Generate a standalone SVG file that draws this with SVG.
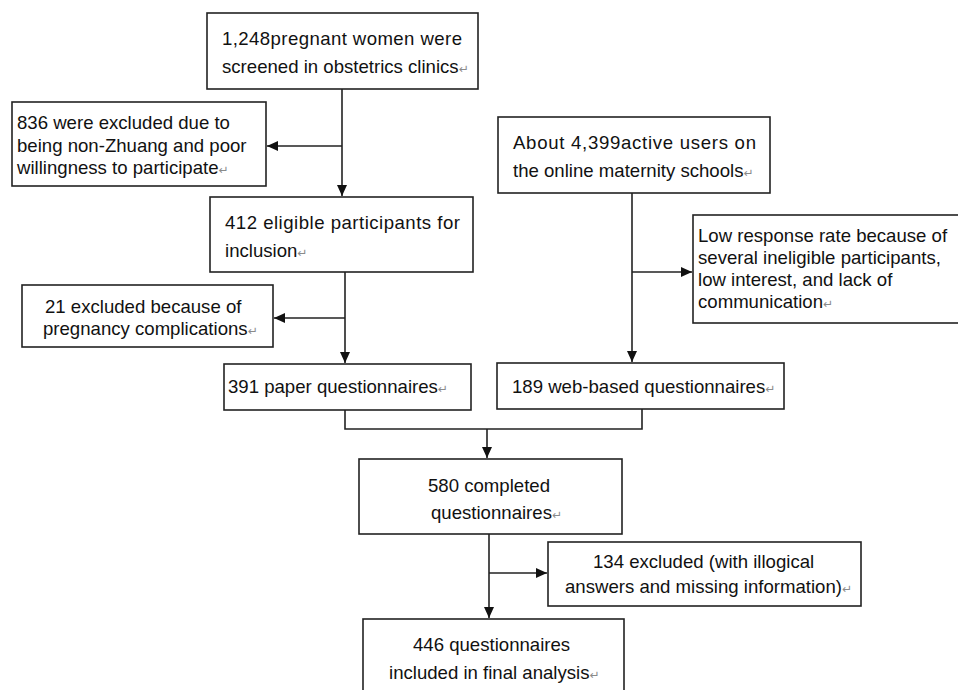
<svg xmlns="http://www.w3.org/2000/svg" width="958" height="690" viewBox="0 0 958 690">
<style>
.box{fill:#fff;stroke:#222;stroke-width:1.6}
.t{font-family:"Liberation Sans",Arial,sans-serif;font-size:18.6px;fill:#111}
.pm{font-family:"DejaVu Sans",sans-serif;font-size:12px;fill:#8a8a8a}
.c{fill:none;stroke:#222;stroke-width:1.6}
</style>
<defs>
<marker id="ah" markerUnits="userSpaceOnUse" markerWidth="12" markerHeight="10" refX="11" refY="5" orient="auto">
<path d="M0,0 L11,5 L0,10 z" fill="#111"/>
</marker>
</defs>
<rect width="958" height="690" fill="#fff"/>
<g id="connectors">
<path class="c" d="M342,89 V196" marker-end="url(#ah)"/>
<path class="c" d="M342,146 H267" marker-end="url(#ah)"/>
<path class="c" d="M345,272 V363" marker-end="url(#ah)"/>
<path class="c" d="M345,318 H274" marker-end="url(#ah)"/>
<path class="c" d="M632,193 V362" marker-end="url(#ah)"/>
<path class="c" d="M632,272 H692" marker-end="url(#ah)"/>
<path class="c" d="M345,410 V429 H642 V409"/>
<path class="c" d="M487,429 V458" marker-end="url(#ah)"/>
<path class="c" d="M489,534 V618" marker-end="url(#ah)"/>
<path class="c" d="M489,573 H547" marker-end="url(#ah)"/>
</g>
<g id="n1">
<rect class="box" x="207" y="13" width="271" height="76"/>
<text class="t" x="222" y="45" textLength="240" lengthAdjust="spacing">1,248pregnant women were</text>
<text class="t" x="222" y="73">screened in obstetrics clinics<tspan class="pm">↵</tspan></text>
</g>
<g id="n836">
<rect class="box" x="12" y="102" width="254" height="84"/>
<text class="t" x="17" y="129">836 were excluded due to</text>
<text class="t" x="17" y="152">being non-Zhuang and poor</text>
<text class="t" x="17" y="174">willingness to participate<tspan class="pm">↵</tspan></text>
</g>
<g id="n412">
<rect class="box" x="210" y="197" width="263" height="75"/>
<text class="t" x="225" y="229" textLength="235" lengthAdjust="spacing">412 eligible participants for</text>
<text class="t" x="225" y="257">inclusion<tspan class="pm">↵</tspan></text>
</g>
<g id="nAbout">
<rect class="box" x="498" y="117" width="272" height="76"/>
<text class="t" x="513" y="149" textLength="243" lengthAdjust="spacing">About 4,399active users on</text>
<text class="t" x="513" y="177">the online maternity schools<tspan class="pm">↵</tspan></text>
</g>
<g id="nLow">
<rect class="box" x="693" y="215" width="275" height="108"/>
<text class="t" x="698" y="242">Low response rate because of</text>
<text class="t" x="698" y="264">several ineligible participants,</text>
<text class="t" x="698" y="286">low interest, and lack of</text>
<text class="t" x="698" y="308">communication<tspan class="pm">↵</tspan></text>
</g>
<g id="n21">
<rect class="box" x="22" y="285" width="251" height="62"/>
<text class="t" x="45" y="313">21 excluded because of</text>
<text class="t" x="43" y="335">pregnancy complications<tspan class="pm">↵</tspan></text>
</g>
<g id="n391">
<rect class="box" x="224" y="364" width="247" height="46"/>
<text class="t" x="228" y="393">391 paper questionnaires<tspan class="pm">↵</tspan></text>
</g>
<g id="n189">
<rect class="box" x="497" y="363" width="287" height="46"/>
<text class="t" x="512" y="393">189 web-based questionnaires<tspan class="pm">↵</tspan></text>
</g>
<g id="n580">
<rect class="box" x="359" y="459" width="263" height="75"/>
<text class="t" x="428" y="492">580 completed</text>
<text class="t" x="431" y="519">questionnaires<tspan class="pm">↵</tspan></text>
</g>
<g id="n134">
<rect class="box" x="548" y="542" width="313" height="64"/>
<text class="t" x="593" y="568">134 excluded (with illogical</text>
<text class="t" x="565" y="593">answers and missing information)<tspan class="pm">↵</tspan></text>
</g>
<g id="n446">
<rect class="box" x="363" y="619" width="261" height="80"/>
<text class="t" x="413" y="651">446 questionnaires</text>
<text class="t" x="389" y="679">included in final analysis<tspan class="pm">↵</tspan></text>
</g>
</svg>
